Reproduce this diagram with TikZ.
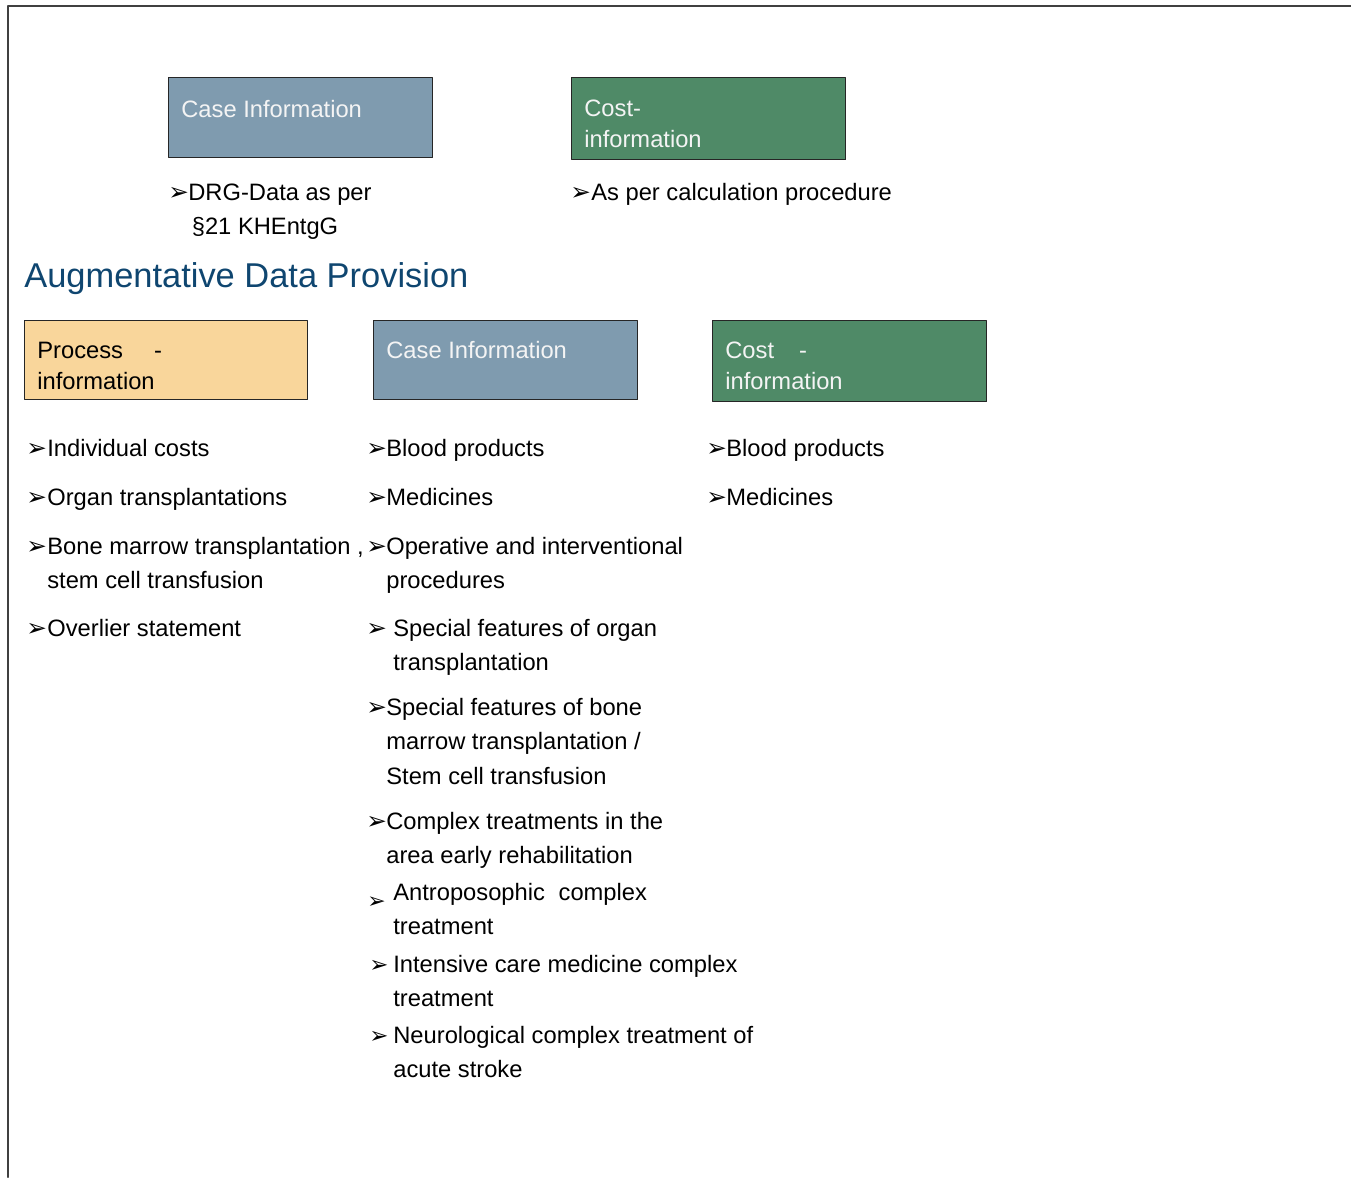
\documentclass[tikz,border=0pt]{standalone}
\usepackage{fontspec}
\setmainfont{Liberation Sans}
\newfontfamily\dingfont{DejaVu Sans}
\usetikzlibrary{positioning}

\definecolor{caseblue}{HTML}{7F9BAF}
\definecolor{costgreen}{HTML}{4F8A67}
\definecolor{procorange}{HTML}{F9D69B}
\definecolor{headblue}{HTML}{0F4670}
\definecolor{framegrey}{HTML}{404040}
\definecolor{boxtext}{HTML}{F4F4F4}

\newcommand{\arrowbul}{{\dingfont\bfseries ➢}}
% lines stacked from the first baseline down
\newcommand{\stacked}[1]{\begin{tabular}[t]{@{}l@{}}#1\end{tabular}}

\tikzset{
  infobox/.style={draw=black!85, line width=0.7pt, anchor=north west, inner sep=0pt,
    minimum height=1.6cm},
  boxlabel/.style={anchor=base west, inner sep=0pt, text=boxtext,
    font=\fontsize{13.5}{18.2}\selectfont},
  bul/.style={anchor=base west, inner sep=0pt, font=\fontsize{14}{14}\selectfont},
  entry/.style={anchor=base west, inner sep=0pt,
    font=\fontsize{13.5}{19.8}\selectfont},
}

\begin{document}
\begin{tikzpicture}[x=0.02cm, y=-0.02cm, line cap=round, line join=round]

  \useasboundingbox (0,0) rectangle (1351,1177);

  % Slide frame
  \draw[framegrey, line width=1.2pt] (1351,6) -- (8,6) -- (8,1177);

  % Upper boxes
  \node[infobox, fill=caseblue, minimum width=5.28cm] (casetop) at (168,77) {};
  \node[boxlabel] (casetoplbl) at (181,117) {Case Information};
  \node[infobox, fill=costgreen, minimum width=5.48cm, minimum height=1.64cm] (costtop) at (571,77) {};
  \node[boxlabel] (costtoplbl) at (584,116) {\stacked{Cost-\\information}};

  % Upper items
  \node[bul] (bt1) at (168,200) {\arrowbul};
  \node[entry] (it1) at (188,200) {\stacked{DRG-Data as per\\\hspace{2pt}§21 KHEntgG}};
  \node[bul] (bt2) at (570,200) {\arrowbul};
  \node[entry] (it2) at (591,200) {As per calculation procedure};

  % Heading
  \node[anchor=base west, inner sep=0pt, text=headblue, font=\fontsize{19.6}{20}\selectfont]
    (title) at (24,287) {Augmentative Data Provision};

  % Lower boxes
  \node[infobox, fill=procorange, minimum width=5.66cm, minimum height=1.58cm] (procbox) at (24,320) {};
  \node[boxlabel, text=black] (proclbl) at (37,358) {\stacked{Process\hspace{0.62cm}-\\information}};
  \node[infobox, fill=caseblue, minimum width=5.28cm, minimum height=1.58cm] (casebox) at (373,320) {};
  \node[boxlabel] (caselbl) at (386,358) {Case Information};
  \node[infobox, fill=costgreen, minimum width=5.48cm, minimum height=1.62cm] (costbox) at (712,320) {};
  \node[boxlabel] (costlbl) at (725,358) {\stacked{Cost\hspace{0.5cm}-\\information}};

  % Column: process information
  \node[bul] (bp1) at (26,456) {\arrowbul};
  \node[entry] (ip1) at (47,456) {Individual costs};
  \node[bul] (bp2) at (26,505) {\arrowbul};
  \node[entry] (ip2) at (47,505) {Organ transplantations};
  \node[bul] (bp3) at (26,554) {\arrowbul};
  \node[entry] (ip3) at (47,554) {\stacked{Bone marrow transplantation ,\\stem cell transfusion}};
  \node[bul] (bp4) at (26,636) {\arrowbul};
  \node[entry] (ip4) at (47,636) {Overlier statement};

  % Column: case information
  \node[bul] (bc1) at (366,456) {\arrowbul};
  \node[entry] (ic1) at (386,456) {Blood products};
  \node[bul] (bc2) at (366,505) {\arrowbul};
  \node[entry] (ic2) at (386,505) {Medicines};
  \node[bul] (bc3) at (366,554) {\arrowbul};
  \node[entry] (ic3) at (386,554) {\stacked{Operative and interventional\\procedures}};
  \node[bul] (bc4) at (366,636) {\arrowbul};
  \node[entry] (ic4) at (393,636) {\stacked{Special features of organ\\transplantation}};
  \node[bul] (bc5) at (366,715) {\arrowbul};
  \node[entry] (ic5) at (386,715) {\stacked{Special features of bone\\marrow transplantation /\\Stem cell transfusion}};
  \node[bul] (bc6) at (366,829) {\arrowbul};
  \node[entry] (ic6) at (386,829) {\stacked{Complex treatments in the\\area early rehabilitation}};
  \node[bul, font=\fontsize{12.5}{12.5}\selectfont] (bc7) at (367,908) {\arrowbul};
  \node[entry] (ic7) at (393,900) {\stacked{Antroposophic\hspace{0.3em} complex\\treatment}};
  \node[bul, font=\fontsize{13}{13}\selectfont] (bc8) at (369,972) {\arrowbul};
  \node[entry] (ic8) at (393,972) {\stacked{Intensive care medicine complex\\treatment}};
  \node[bul, font=\fontsize{13}{13}\selectfont] (bc9) at (369,1043) {\arrowbul};
  \node[entry] (ic9) at (393,1043) {\stacked{Neurological complex treatment of\\acute stroke}};

  % Column: cost information
  \node[bul] (bk1) at (706,456) {\arrowbul};
  \node[entry] (ik1) at (726,456) {Blood products};
  \node[bul] (bk2) at (706,505) {\arrowbul};
  \node[entry] (ik2) at (726,505) {Medicines};

\end{tikzpicture}
\end{document}
